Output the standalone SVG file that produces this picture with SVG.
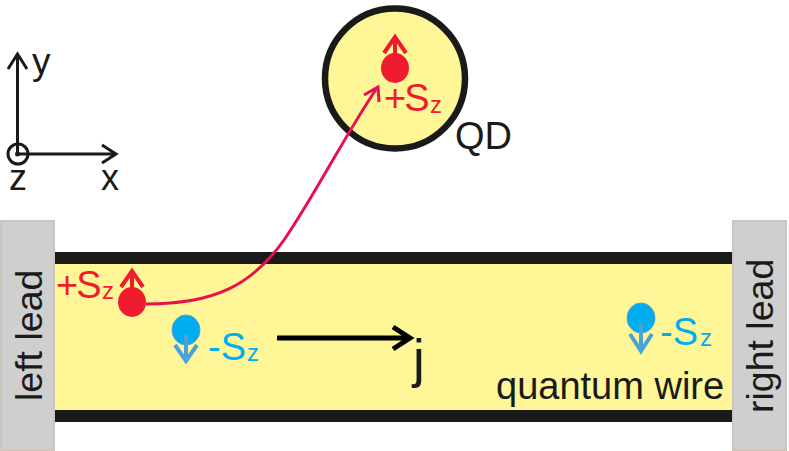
<svg xmlns="http://www.w3.org/2000/svg" width="789" height="451" viewBox="0 0 789 451">
<style>
text{font-family:"Liberation Sans",Arial,sans-serif}
.k{fill:#1a1a18}
.r{fill:#ee1c2e}
.b{fill:#00aeef}
.s{font-size:38px}
.plus{letter-spacing:-2px}
.sub{font-size:24px}
.lead{fill:#cfcfcf;stroke:#cdc4bc;stroke-width:2}
.bar{fill:#1a1a18}
.ar{fill:none;stroke-width:4;stroke-linecap:butt;stroke-linejoin:miter}
.ax{fill:none;stroke:#1a1a18;stroke-width:3}
</style>
<rect width="789" height="451" fill="#fff"/>
<g id="wire">
<rect x="54" y="264" width="680" height="146" fill="#fef697"/>
<rect class="bar" x="54" y="252" width="680" height="12"/>
<rect class="bar" x="54" y="410" width="680" height="12"/>
<text class="k" x="496" y="399" font-size="38">quantum wire</text>
</g>
<g id="left-lead">
<rect class="lead" x="1" y="221" width="53" height="229"/>
<text class="k" transform="translate(42,401) rotate(-90)" font-size="37.500">left lead</text>
</g>
<g id="right-lead">
<rect class="lead" x="733" y="221" width="53" height="229"/>
<text class="k" transform="translate(773,413) rotate(-90)" font-size="37.500">right lead</text>
</g>
<g id="axes">
<path class="ax" d="M17.500 154V56M8 69L17.500 54L27 69M17.500 154H115M102 145L116 154L102 163"/>
<circle cx="18" cy="154" r="10" fill="none" stroke="#1a1a18" stroke-width="3"/>
<circle cx="17.500" cy="154" r="2.500" class="k"/>
<text class="k" x="32" y="74" font-size="37">y</text>
<text class="k" x="9" y="190" font-size="36">z</text>
<text class="k" x="101" y="190" font-size="36">x</text>
</g>
<g id="qd">
<circle cx="395" cy="78.500" r="70" fill="#fef697" stroke="#1a1a18" stroke-width="6.500"/>
<text class="k" x="455" y="149" font-size="38">QD</text>
</g>
<g id="spin-qd">
<ellipse class="r" cx="395" cy="68" rx="14" ry="15"/>
<path class="ar" stroke="#ee1c2e" d="M395 63V38M384 53L395 37L406 53"/>
<text class="r s plus" x="384" y="111">+S</text>
<text class="r sub" x="430" y="113">z</text>
</g>
<g id="spin-left">
<ellipse class="r" cx="132" cy="302" rx="14" ry="15"/>
<path class="ar" stroke="#ee1c2e" d="M132 296V271M121 287L132 271L143 287"/>
<text class="r s plus" x="56" y="298">+S</text>
<text class="r sub" x="102" y="299">z</text>
</g>
<g id="spin-down-left">
<ellipse class="b" cx="186" cy="330" rx="14" ry="15" stroke="#5b9bd5" stroke-width="1"/>
<path class="ar" stroke="#4aa3d8" d="M186 335V361M175 345L186 361L197 345"/>
<text class="b s" x="208" y="360">-S</text>
<text class="b sub" x="247" y="361">z</text>
</g>
<g id="spin-down-right">
<ellipse class="b" cx="641" cy="318" rx="14" ry="15" stroke="#5b9bd5" stroke-width="1"/>
<path class="ar" stroke="#4aa3d8" d="M641 324V351M630 334L641 351L652 334"/>
<text class="b s" x="660" y="345">-S</text>
<text class="b sub" x="700" y="346">z</text>
</g>
<g id="current">
<path fill="none" stroke="#000" stroke-width="5" d="M277 338H409M393 327L410 338L393 349"/>
<text class="k" x="413" y="377" font-size="53">j</text>
</g>
<g id="connectors">
<path fill="none" stroke="#e8104f" stroke-width="3" d="M146 304C215 304 252 285 284 240C315 195 345 135 377 88"/>
<path fill="none" stroke="#e8104f" stroke-width="3" d="M364 95L378 87L379 102"/>
</g>
</svg>
